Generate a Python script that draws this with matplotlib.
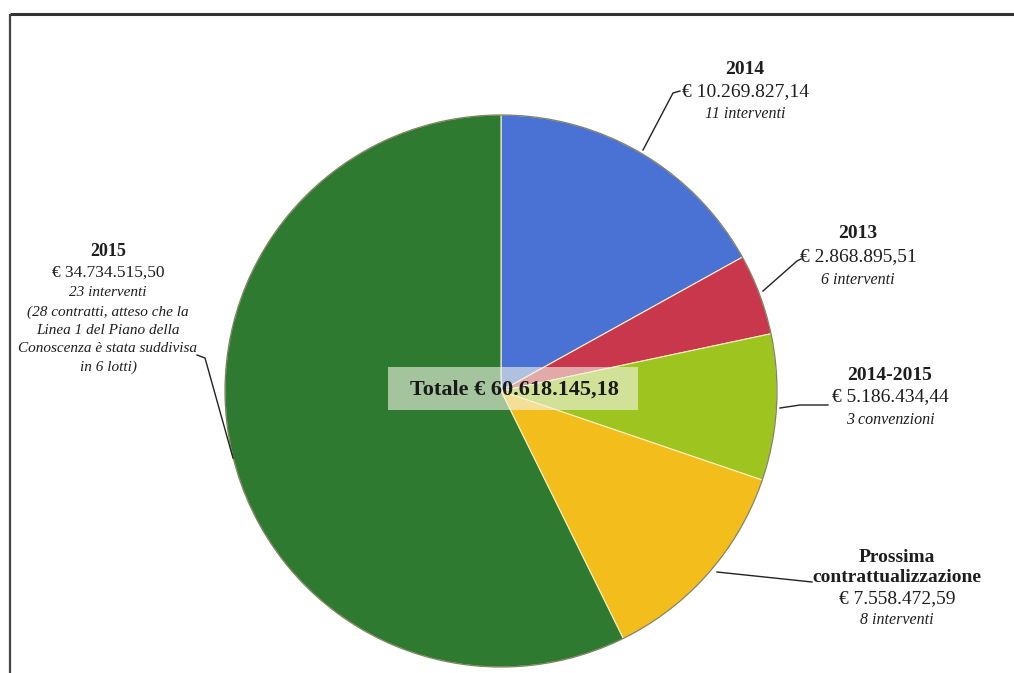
import matplotlib
matplotlib.use("Agg")
import matplotlib.pyplot as plt
from matplotlib.patches import Circle, Rectangle

# ---- data ----
categories = ["2014", "2013", "2014-2015", "Prossima\ncontrattualizzazione", "2015"]
values = [10269827.14, 2868895.51, 5186434.44, 7558472.59, 34734515.50]
amount_labels = ["€ 10.269.827,14", "€ 2.868.895,51", "€ 5.186.434,44", "€ 7.558.472,59", "€ 34.734.515,50"]
notes = ["11 interventi", "6 interventi", "3 convenzioni", "8 interventi",
         "23 interventi\n(28 contratti, atteso che la\nLinea 1 del Piano della\nConoscenza è stata suddivisa\nin 6 lotti)"]
total_label = "Totale € 60.618.145,18"
colors = ["#4a72d4", "#c9374d", "#9dc41f", "#f3bd1b", "#2d7a30"]

W, H = 1014, 673
fig = plt.figure(figsize=(W / 100, H / 100), dpi=100)
ax = fig.add_axes([0, 0, 1, 1])


def Y(y):
    return H - y


serif = "Liberation Serif"
tc = "#1e1e1e"

# pie
cx, cy, r = 501, Y(391), 276
wedges, _ = ax.pie(values, colors=colors, startangle=90, counterclock=False,
                   center=(cx, cy), radius=r, frame=True,
                   wedgeprops=dict(edgecolor="#f5f0c0", linewidth=0.8))
ax.set_xlim(0, W)
ax.set_ylim(0, H)
ax.set_aspect("equal")
ax.axis("off")
ax.add_patch(Circle((cx, cy), r, fill=False, edgecolor="#3a3a2a", lw=0.9, alpha=0.6))

# frame
ax.plot([10, W], [Y(14), Y(14)], color="#333333", lw=2.2, solid_capstyle="butt")
ax.plot([10, 10], [Y(14), 0], color="#444444", lw=1.6, solid_capstyle="butt")


def label_block(x, ys, lines):
    for y, (txt, style, size) in zip(ys, lines):
        weight = "bold" if style == "b" else "normal"
        fst = "italic" if style == "i" else "normal"
        ax.text(x, Y(y), txt, ha="center", va="center", family=serif,
                fontweight=weight, fontstyle=fst, fontsize=size, color=tc)


label_block(745, [70, 92, 114],
            [(categories[0], "b", 14), (amount_labels[0], "n", 14), (notes[0], "i", 11.5)])
label_block(858, [234, 257, 280],
            [(categories[1], "b", 14), (amount_labels[1], "n", 14), (notes[1], "i", 11.5)])
label_block(890, [375, 397, 420],
            [(categories[2], "b", 14), (amount_labels[2], "n", 14), (notes[2], "i", 11.5)])
pl = categories[3].split("\n")
label_block(897, [557, 578, 599, 620],
            [(pl[0], "b", 14), (pl[1], "b", 14), (amount_labels[3], "n", 14), (notes[3], "i", 11.5)])
nl = notes[4].split("\n")
label_block(108, [252, 273, 293, 312, 330, 348, 367],
            [(categories[4], "b", 13), (amount_labels[4], "n", 12.5)] + [(t, "i", 11) for t in nl])

# leader lines
lc = "#222222"


def leader(pts):
    ax.plot([p[0] for p in pts], [Y(p[1]) for p in pts], color=lc, lw=1.0)


leader([(643, 150), (673, 93), (680, 91)])
leader([(763, 291), (797, 261), (801, 259)])
leader([(780, 408), (800, 405), (828, 405)])
leader([(717, 572), (812, 582)])
leader([(197, 355), (205, 358), (233, 458)])

# total box
ax.add_patch(Rectangle((388, Y(410)), 250, 43, facecolor="#f4f6e8", alpha=0.6,
                       edgecolor="none", zorder=5))
ax.text(514, Y(390), total_label, ha="center", va="center", family=serif,
        fontweight="bold", fontsize=16, color="#1a1a1a", zorder=6)

fig.savefig("out.png", dpi=100, facecolor="white")
